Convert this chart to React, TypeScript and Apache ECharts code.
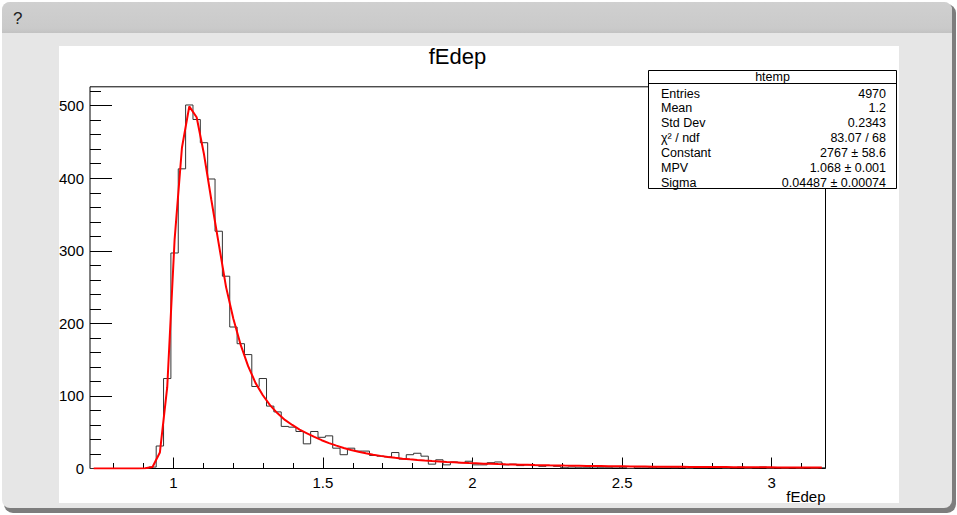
import React, { useEffect, useRef } from 'react';
import * as echarts from 'echarts';

// Histogram range and binning (100 equal bins over the axis range)
const X_MIN = 0.7216;
const X_MAX = 3.1798;
const BIN_COUNT = 100;

// Entries per bin of fEdep
const binCounts = [
  0, 0, 0, 0, 0, 0, 0, 0, 2, 31,
  124, 297, 413, 501, 481, 449, 399, 327, 265, 195,
  172, 157, 113, 124, 86, 78, 58, 57, 51, 34,
  51, 43, 45, 28, 19, 28, 24, 24, 18, 17,
  16, 22, 13, 19, 21, 17, 6, 12, 5, 9,
  8, 10, 5, 5, 8, 9, 5, 6, 4, 5,
  4, 3, 4, 3, 1, 2, 1, 1, 2, 1,
  1, 2, 1, 0, 2, 2, 1, 2, 2, 1,
  2, 0, 1, 1, 2, 1, 0, 1, 2, 0,
  1, 2, 0, 1, 0, 1, 0, 1, 0, 1,
];

// Landau fit curve, sampled at the bin centres
const fitValues = [
  0, 0, 0, 0, 0, 0, 0, 0.2, 2, 22,
  112, 315, 442, 499, 484, 433, 370, 310, 250, 206,
  170, 141, 118, 101, 87, 76, 67, 60, 53.5, 48.5,
  43.5, 39, 35, 31.5, 28.3, 25.4, 23.0, 20.9, 19.0, 17.4,
  16.0, 14.7, 13.6, 12.6, 11.7, 10.9, 10.2, 9.6, 9.0, 8.5,
  8.0, 7.5, 7.1, 6.7, 6.4, 6.05, 5.75, 5.5, 5.2, 5.0,
  4.75, 4.55, 4.35, 4.2, 4.0, 3.85, 3.7, 3.55, 3.4, 3.3,
  3.15, 3.05, 2.95, 2.85, 2.75, 2.65, 2.55, 2.5, 2.4, 2.3,
  2.25, 2.2, 2.1, 2.05, 2.0, 1.95, 1.9, 1.85, 1.8, 1.75,
  1.7, 1.65, 1.6, 1.55, 1.5, 1.5, 1.45, 1.4, 1.35, 1.35,
];

// Axis ticks
const xMajorTicks = [1, 1.5, 2, 2.5, 3];
const xMinorTicks = [0.8, 0.9, 1.1, 1.2, 1.3, 1.4, 1.6, 1.7, 1.8, 1.9, 2.1, 2.2, 2.3, 2.4, 2.6, 2.7, 2.8, 2.9, 3.1];
const yMajorTicks = [0, 100, 200, 300, 400, 500];
const yMinorTicks = [20, 40, 60, 80, 120, 140, 160, 180, 220, 240, 260, 280, 320, 340, 360, 380, 420, 440, 460, 480, 520];

// Texts
const windowTitle = '?';
const chartTitle = 'fEdep';
const xAxisTitle = 'fEdep';
const statsTitle = 'htemp';
const statsLabels = ['Entries', 'Mean', 'Std Dev', 'χ² / ndf', 'Constant', 'MPV', 'Sigma'];
const statsValues = ['4970', '1.2', '0.2343', '83.07 / 68', '2767 ± 58.6', '1.068 ± 0.001', '0.04487 ± 0.00074'];

const FONT = '"Liberation Sans", Arial, Helvetica, sans-serif';

export default function App() {
  const ref = useRef<HTMLDivElement>(null);

  useEffect(() => {
    if (!ref.current) return;
    const chart = echarts.init(ref.current, null, { renderer: 'svg' });

    const binWidth = (X_MAX - X_MIN) / BIN_COUNT;
    const histPath: number[][] = [];
    binCounts.forEach((c, k) => {
      histPath.push([X_MIN + k * binWidth, c], [X_MIN + (k + 1) * binWidth, c]);
    });
    const fitPath = fitValues.map((v, k) => [X_MIN + (k + 0.5) * binWidth, v]);
    const yMax = Math.max(...binCounts) * 1.05;

    const statsRows: any[] = [];
    statsLabels.forEach((label, i) => {
      const y = 93.5 + i * 14.85;
      statsRows.push({
        type: 'text', x: 661, y, z: 101,
        style: { text: label, font: `12.5px ${FONT}`, fill: '#000', textAlign: 'left', textVerticalAlign: 'middle' },
      });
      statsRows.push({
        type: 'text', x: 886, y, z: 101,
        style: { text: statsValues[i], font: `12.5px ${FONT}`, fill: '#000', textAlign: 'right', textVerticalAlign: 'middle' },
      });
    });

    const minorAxisCommon = {
      type: 'value',
      axisLine: { show: false },
      splitLine: { show: false },
      axisLabel: { show: false },
    };

    chart.setOption({
      animation: false,
      backgroundColor: '#ffffff',
      grid: {
        left: 90, right: 131.5, top: 86.8, bottom: 46.5,
        show: true, borderColor: '#000', borderWidth: 1, backgroundColor: '#ffffff',
      },
      xAxis: [
        {
          type: 'value', min: X_MIN, max: X_MAX, position: 'bottom',
          axisLine: { show: false }, splitLine: { show: false },
          axisTick: { show: true, inside: true, length: 11, customValues: xMajorTicks, lineStyle: { color: '#000', width: 1 } },
          axisLabel: { show: true, customValues: xMajorTicks, margin: 6, fontSize: 15, color: '#000', fontFamily: FONT },
        },
        {
          ...minorAxisCommon, min: X_MIN, max: X_MAX, position: 'bottom',
          axisTick: { show: true, inside: true, length: 5.5, customValues: xMinorTicks, lineStyle: { color: '#000', width: 1 } },
        },
      ],
      yAxis: [
        {
          type: 'value', min: 0, max: yMax, position: 'left',
          axisLine: { show: false }, splitLine: { show: false },
          axisTick: { show: true, inside: true, length: 22, customValues: yMajorTicks, lineStyle: { color: '#000', width: 1 } },
          axisLabel: { show: true, customValues: yMajorTicks, margin: 6, fontSize: 15, color: '#000', fontFamily: FONT },
        },
        {
          ...minorAxisCommon, min: 0, max: yMax, position: 'left',
          axisTick: { show: true, inside: true, length: 11, customValues: yMinorTicks, lineStyle: { color: '#000', width: 1 } },
        },
      ],
      series: [
        {
          name: 'htemp', type: 'line', xAxisIndex: 0, yAxisIndex: 0,
          data: histPath, symbol: 'none', silent: true,
          lineStyle: { color: '#333', width: 1 },
        },
        {
          name: 'landau', type: 'line', xAxisIndex: 0, yAxisIndex: 0,
          data: fitPath, symbol: 'none', silent: true,
          lineStyle: { color: '#ff0000', width: 2 },
        },
      ],
      graphic: [
        // window frame
        { type: 'rect', z: -100, shape: { x: 4, y: 4, width: 952, height: 509, r: 9 }, style: { fill: '#7d7d7d' } },
        { type: 'rect', z: -99, shape: { x: 2, y: 2, width: 950, height: 506, r: 8 }, style: { fill: '#e6e6e6' } },
        {
          type: 'rect', z: -98, shape: { x: 2, y: 2, width: 950, height: 31, r: [8, 8, 0, 0] },
          style: {
            fill: new echarts.graphic.LinearGradient(0, 0, 0, 1, [
              { offset: 0, color: '#d0d0d0' },
              { offset: 0.85, color: '#cacaca' },
              { offset: 1, color: '#c2c2c2' },
            ]),
          },
        },
        { type: 'text', z: -97, x: 13, y: 18, style: { text: windowTitle, font: `17px ${FONT}`, fill: '#222', textVerticalAlign: 'middle' } },
        { type: 'rect', z: -96, shape: { x: 59, y: 46, width: 840, height: 457 }, style: { fill: '#ffffff' } },
        // titles
        { type: 'text', z: 50, x: 457.5, y: 56, style: { text: chartTitle, font: `22px ${FONT}`, fill: '#000', textAlign: 'center', textVerticalAlign: 'middle' } },
        { type: 'text', z: 50, x: 825.5, y: 496, style: { text: xAxisTitle, font: `15px ${FONT}`, fill: '#000', textAlign: 'right', textVerticalAlign: 'middle' } },
        // statistics box
        { type: 'rect', z: 100, shape: { x: 648.5, y: 70.5, width: 248, height: 118 }, style: { fill: '#ffffff', stroke: '#000', lineWidth: 1 } },
        { type: 'line', z: 101, shape: { x1: 648.5, y1: 83.5, x2: 896.5, y2: 83.5 }, style: { stroke: '#000', lineWidth: 1 } },
        { type: 'text', z: 101, x: 772.5, y: 76.5, style: { text: statsTitle, font: `12.5px ${FONT}`, fill: '#000', textAlign: 'center', textVerticalAlign: 'middle' } },
        ...statsRows,
      ],
    });

    return () => chart.dispose();
  }, []);

  return <div ref={ref} style={{ position: 'fixed', left: 0, top: 0, width: 957, height: 515 }} />;
}
